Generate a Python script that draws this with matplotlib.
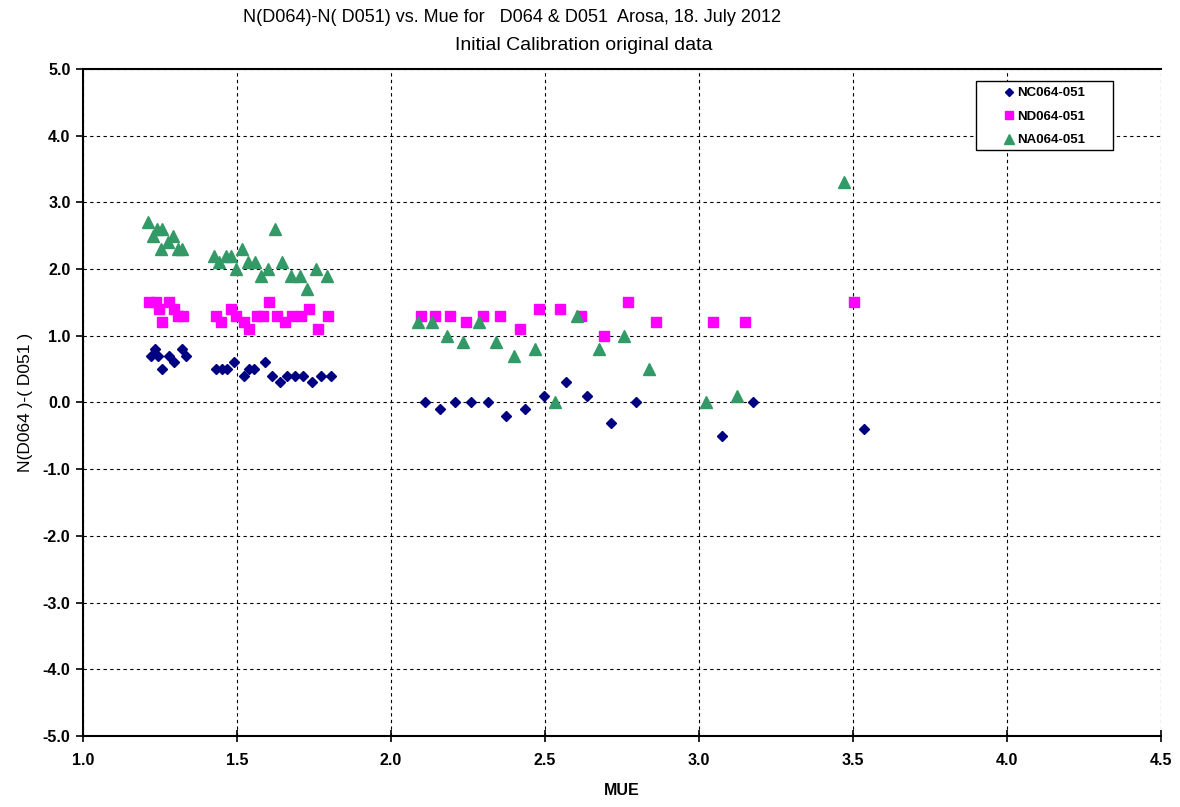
"""
Ratios N(D064)-N(D051) gegen MUE, Arosa 18. Juli 2012 (Initial Calibration).
"""
import matplotlib
matplotlib.use("Agg")
import matplotlib.pyplot as plt
from matplotlib.lines import Line2D
from matplotlib.patches import Rectangle

plt.rcParams["font.family"] = ["Liberation Sans", "DejaVu Sans"]

# ── Daten ────────────────────────────────────────────────────────────────────
nc_mue = [1.22, 1.235, 1.245, 1.28, 1.295, 1.258, 1.32, 1.335,
          1.431, 1.453, 1.469, 1.49, 1.523, 1.54, 1.556, 1.59, 1.615, 1.639,
          1.664, 1.69, 1.716, 1.745, 1.772, 1.804,
          2.112, 2.159, 2.207, 2.26, 2.314, 2.372, 2.434, 2.498, 2.568, 2.638,
          2.715, 2.795, 3.074, 3.175, 3.537]
nc_val = [0.7, 0.8, 0.7, 0.7, 0.6, 0.5, 0.8, 0.7,
          0.5, 0.5, 0.5, 0.6, 0.4, 0.5, 0.5, 0.6, 0.4, 0.3,
          0.4, 0.4, 0.4, 0.3, 0.4, 0.4,
          0.0, -0.1, 0.0, 0.0, 0.0, -0.2, -0.1, 0.1, 0.3, 0.1,
          -0.3, 0.0, -0.5, 0.0, -0.4]

nd_mue = [1.213, 1.236, 1.28, 1.247, 1.296, 1.307, 1.326, 1.256,
          1.431, 1.447, 1.48, 1.496, 1.523, 1.539, 1.566, 1.583, 1.604, 1.629,
          1.656, 1.68, 1.707, 1.734, 1.763, 1.796,
          2.099, 2.142, 2.193, 2.244, 2.298, 2.355, 2.418, 2.48, 2.548, 2.618,
          2.693, 2.771, 2.86, 3.047, 3.149, 3.502]
nd_val = [1.5, 1.5, 1.5, 1.4, 1.4, 1.3, 1.3, 1.2,
          1.3, 1.2, 1.4, 1.3, 1.2, 1.1, 1.3, 1.3, 1.5, 1.3,
          1.2, 1.3, 1.3, 1.4, 1.1, 1.3,
          1.3, 1.3, 1.3, 1.2, 1.3, 1.3, 1.1, 1.4, 1.4, 1.3,
          1.0, 1.5, 1.2, 1.2, 1.2, 1.5]

na_mue = [1.21, 1.239, 1.258, 1.226, 1.293, 1.275, 1.253, 1.31, 1.323,
          1.424, 1.442, 1.464, 1.48, 1.496, 1.515, 1.536, 1.558, 1.577, 1.60,
          1.623, 1.647, 1.674, 1.705, 1.729, 1.758, 1.791,
          2.087, 2.134, 2.183, 2.234, 2.285, 2.342, 2.40, 2.467, 2.531, 2.604,
          2.676, 2.755, 2.838, 3.023, 3.125, 3.471]
na_val = [2.7, 2.6, 2.6, 2.5, 2.5, 2.4, 2.3, 2.3, 2.3,
          2.2, 2.1, 2.2, 2.2, 2.0, 2.3, 2.1, 2.1, 1.9, 2.0,
          2.6, 2.1, 1.9, 1.9, 1.7, 2.0, 1.9,
          1.2, 1.2, 1.0, 0.9, 1.2, 0.9, 0.7, 0.8, 0.0, 1.3,
          0.8, 1.0, 0.5, 0.0, 0.1, 3.3]

series_names = ["NC064-051", "ND064-051", "NA064-051"]
x_ticks = [1.0, 1.5, 2.0, 2.5, 3.0, 3.5, 4.0, 4.5]
y_ticks = [5.0, 4.0, 3.0, 2.0, 1.0, 0.0, -1.0, -2.0, -3.0, -4.0, -5.0]

C_NC = "#000080"
C_ND = "#FF00FF"
C_NA = "#339966"

# ── Plot ─────────────────────────────────────────────────────────────────────
fig = plt.figure(figsize=(11.8, 8.07), dpi=100)
ax = fig.add_axes([0.0703, 0.088, 0.9136, 0.8265])

ax.plot(nc_mue, nc_val, "D", ms=5.6, color=C_NC, mec=C_NC, ls="none", zorder=4)
ax.plot(nd_mue, nd_val, "s", ms=7.6, color=C_ND, mec=C_ND, ls="none", zorder=3)
ax.plot(na_mue, na_val, "^", ms=8.5, color=C_NA, mec=C_NA, ls="none", zorder=3)

ax.set_xlim(1.0, 4.5)
ax.set_ylim(-5.0, 5.0)
ax.set_xticks(x_ticks)
ax.set_yticks(y_ticks)
tick_font = {"fontsize": 11.5, "fontweight": "bold"}
ax.set_xticklabels([f"{v:.1f}" for v in x_ticks], **tick_font)
ax.set_yticklabels([f"{v:.1f}" for v in y_ticks], **tick_font)
ax.tick_params(axis="x", direction="inout", length=8, width=1.2, pad=8)
ax.tick_params(axis="y", direction="out", length=5, width=1.2, pad=4)

ax.grid(True, color="black", linestyle=(0, (3, 3)), linewidth=0.8)
ax.spines["right"].set_visible(False)
for side in ("left", "bottom", "top"):
    ax.spines[side].set_linewidth(1.5)

ax.set_xlabel("MUE", fontsize=11.5, fontweight="bold", labelpad=11)
ax.set_ylabel("N(D064 )-( D051 )", fontsize=12.5, labelpad=7)

fig.text(0.434, 0.978, "N(D064)-N( D051) vs. Mue for   D064 & D051  Arosa, 18. July 2012",
         ha="center", va="center", fontsize=13)
fig.text(0.495, 0.943, "Initial Calibration original data",
         ha="center", va="center", fontsize=14)

# Legendenkasten wie im Original (breiter Rand links/rechts)
ax.add_patch(Rectangle((0.8284, 0.8786), 0.1271, 0.1039, transform=ax.transAxes,
                       facecolor="white", edgecolor="black", linewidth=1.0, zorder=5))
handles = [
    Line2D([], [], marker="D", ls="none", ms=4.5, color=C_NC),
    Line2D([], [], marker="s", ls="none", ms=6, color=C_ND),
    Line2D([], [], marker="^", ls="none", ms=7, color=C_NA),
]
leg = ax.legend(handles, series_names, loc="upper left", bbox_to_anchor=(0.854, 0.973),
                prop={"weight": "bold", "size": 9.5}, frameon=False,
                handletextpad=0.2, handlelength=0.8, borderpad=0, borderaxespad=0,
                labelspacing=0.85)
leg.set_zorder(6)

fig.savefig("out.png", dpi=100)
